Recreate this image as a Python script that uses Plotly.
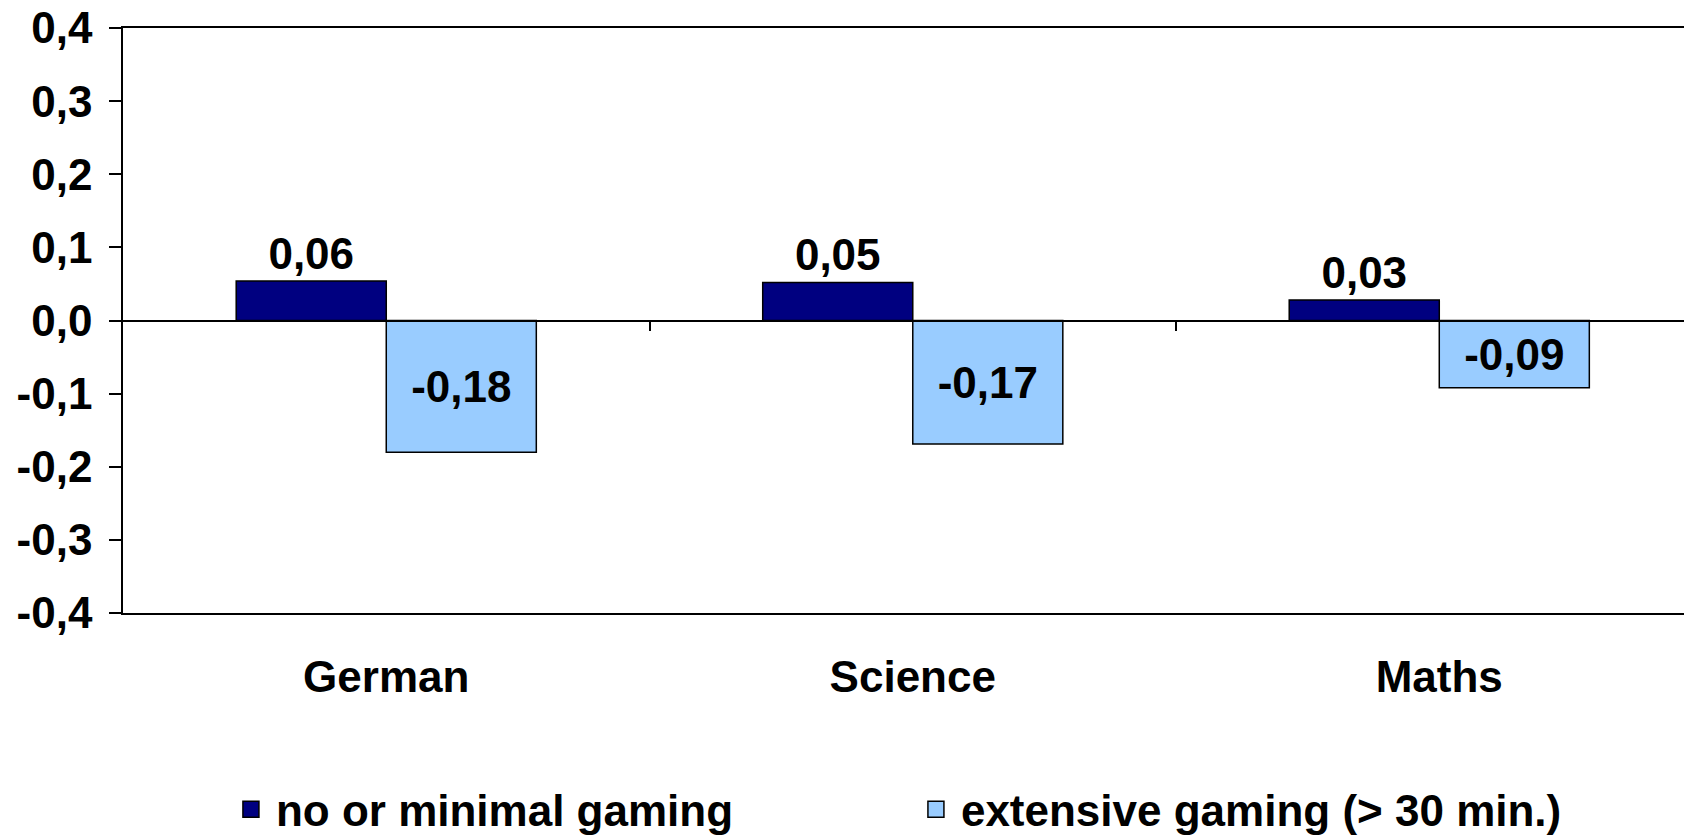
import plotly.graph_objects as go

categories = ["German", "Science", "Maths"]
series_names = ["no or minimal gaming", "extensive gaming (> 30 min.)"]
minimal_values = [0.054, 0.052, 0.028]
extensive_values = [-0.180, -0.169, -0.092]
minimal_labels = ["0,06", "0,05", "0,03"]
extensive_labels = ["-0,18", "-0,17", "-0,09"]
y_tickvals = [0.4, 0.3, 0.2, 0.1, 0.0, -0.1, -0.2, -0.3, -0.4]
y_ticktext = ["0,4", "0,3", "0,2", "0,1", "0,0", "-0,1", "-0,2", "-0,3", "-0,4"]

DARK = "#000080"
LIGHT = "#99CCFF"
FONT = "Liberation Sans, Arial, sans-serif"
FS = 44

fig = go.Figure()
fig.add_trace(go.Bar(
    x=categories, y=minimal_values, name=series_names[0],
    marker=dict(color=DARK, line=dict(color="black", width=1.5)),
    text=minimal_labels, textposition="outside", cliponaxis=False,
    constraintext="none", textangle=0,
    textfont=dict(family=FONT, size=FS, color="black", weight="bold"),
    showlegend=False,
))
fig.add_trace(go.Bar(
    x=categories, y=extensive_values, name=series_names[1],
    marker=dict(color=LIGHT, line=dict(color="black", width=1.5)),
    text=extensive_labels, textposition="inside", insidetextanchor="middle",
    constraintext="none", textangle=0,
    textfont=dict(family=FONT, size=FS, color="black", weight="bold"),
    showlegend=False,
))
# legend entries
for nm, col in zip(series_names, [DARK, LIGHT]):
    fig.add_trace(go.Scatter(
        x=[None], y=[None], mode="markers", name=nm, xaxis="x2",
        marker=dict(symbol="square", size=22, color=col, line=dict(color="black", width=1.5)),
    ))

n = len(categories)
boundaries = [i + 0.5 for i in range(n - 1)]
xr = [-0.5, n - 0.52]

fig.update_layout(
    width=1684, height=828,
    margin=dict(l=115, r=0, t=19.5, b=223, autoexpand=False),
    paper_bgcolor="white", plot_bgcolor="white",
    barmode="group", bargap=0.43, bargroupgap=0,
    font=dict(family=FONT, size=FS, color="black", weight="bold"),
    showlegend=True,
    legend=dict(
        orientation="h", x=0.0656, xanchor="left", y=-0.336, yanchor="middle",
        font=dict(family=FONT, size=FS, color="black", weight="bold"),
        entrywidth=630, itemwidth=40, itemsizing="trace", bgcolor="rgba(0,0,0,0)",
    ),
    xaxis=dict(
        range=xr, showgrid=False, showline=True, linecolor="black", linewidth=1.5,
        mirror=True, ticks="", ticklabelstandoff=24, automargin=False,
        tickfont=dict(family=FONT, size=FS, color="black", weight="bold"),
    ),
    xaxis2=dict(
        overlaying="x", anchor="free", position=0.5, range=xr,
        showline=True, linecolor="black", linewidth=1.5,
        tickmode="array", tickvals=boundaries, ticks="outside", ticklen=10,
        tickwidth=1.5, tickcolor="black", showticklabels=False, showgrid=False,
        zeroline=False, automargin=False,
    ),
    yaxis=dict(
        range=[-0.4, 0.4], tickmode="array", tickvals=y_tickvals, ticktext=y_ticktext,
        showgrid=False, zeroline=True, zerolinecolor="black", zerolinewidth=1.5,
        showline=True, linecolor="black", linewidth=1.5,
        ticks="outside", ticklen=12, tickwidth=1.5, tickcolor="black",
        ticklabelstandoff=8, automargin=False, ticklabeloverflow="allow",
        tickfont=dict(family=FONT, size=FS, color="black", weight="bold"),
    ),
)

fig.write_html("out.html")
